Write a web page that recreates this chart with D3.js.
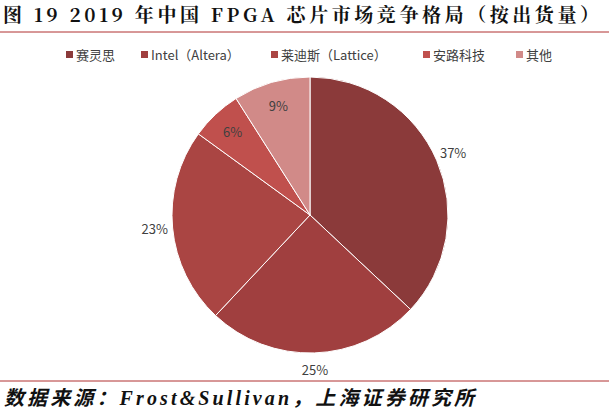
<!DOCTYPE html>
<html><head><meta charset="utf-8">
<script src="https://cdn.jsdelivr.net/npm/d3@7"></script>
<style>body{margin:0;background:#fff}</style>
</head><body><svg id="c" width="609" height="414"></svg>
<script>
const categories = ["赛灵思", "Intel（Altera）", "莱迪斯（Lattice）", "安路科技", "其他"];
const shares = [37, 25, 23, 6, 9];
const colors = ["#8B3A3A", "#A03F3F", "#AA4543", "#C0504D", "#D18A88"];
const legendX = [66, 141, 271, 423, 516];

const svg = d3.select("#c");
const cjk = "'Noto Sans CJK SC', 'Noto Sans', sans-serif";

svg.append("text").attr("x", 3).attr("y", 22)
  .attr("font-family", "'Noto Serif CJK SC', 'Liberation Serif', 'Noto Sans CJK SC', serif")
  .attr("font-weight", "bold").attr("font-size", 19).attr("fill", "#111")
  .attr("textLength", 596).attr("lengthAdjust", "spacing")
  .text("图 19 2019 年中国 FPGA 芯片市场竞争格局（按出货量）");
svg.append("line").attr("x1", 0).attr("x2", 609).attr("y1", 32).attr("y2", 32)
  .attr("stroke", "#b03030").attr("stroke-width", 1);

// legend
const lg = svg.append("g").selectAll("g").data(categories).join("g")
  .attr("transform", (d, i) => `translate(${legendX[i]},55)`);
lg.append("rect").attr("x", 0).attr("y", -4).attr("width", 7).attr("height", 7)
  .attr("fill", (d, i) => colors[i]);
lg.append("text").attr("x", 10).attr("y", 0).attr("dy", "0.35em")
  .attr("font-family", cjk).attr("font-size", 13).attr("fill", "#404040").text(d => d);

// pie
const cx = 310, cy = 215, r = 138;
const pie = d3.pie().sort(null).value(d => d)(shares);
const arc = d3.arc().innerRadius(0).outerRadius(r);
const g = svg.append("g").attr("transform", `translate(${cx},${cy})`);
g.selectAll("path").data(pie).join("path")
  .attr("d", arc).attr("fill", (d, i) => colors[i])
  .attr("stroke", "#fff").attr("stroke-width", 1);

const labelArc = d3.arc().innerRadius(r * 1.13).outerRadius(r * 1.13);
const inArc = d3.arc().innerRadius(r * 0.82).outerRadius(r * 0.82);
g.selectAll("text.lbl").data(pie).join("text").attr("class", "lbl")
  .attr("transform", (d, i) => `translate(${(i >= 3 ? inArc : labelArc).centroid(d)})`)
  .attr("text-anchor", "middle").attr("dy", "0.35em")
  .attr("font-family", cjk).attr("font-size", 13).attr("fill", "#404040")
  .text(d => d.data + "%");

// footer
svg.append("line").attr("x1", 0).attr("x2", 609).attr("y1", 381).attr("y2", 381)
  .attr("stroke", "#b03030").attr("stroke-width", 1);
svg.append("text").attr("x", 4).attr("y", 405)
  .attr("font-family", "'Liberation Serif', 'Noto Sans CJK SC', serif")
  .attr("font-weight", "bold").attr("font-style", "italic").attr("font-size", 20).attr("fill", "#111")
  .attr("textLength", 470).attr("lengthAdjust", "spacing")
  .text("数据来源：Frost&Sullivan，上海证券研究所");
</script></body></html>
